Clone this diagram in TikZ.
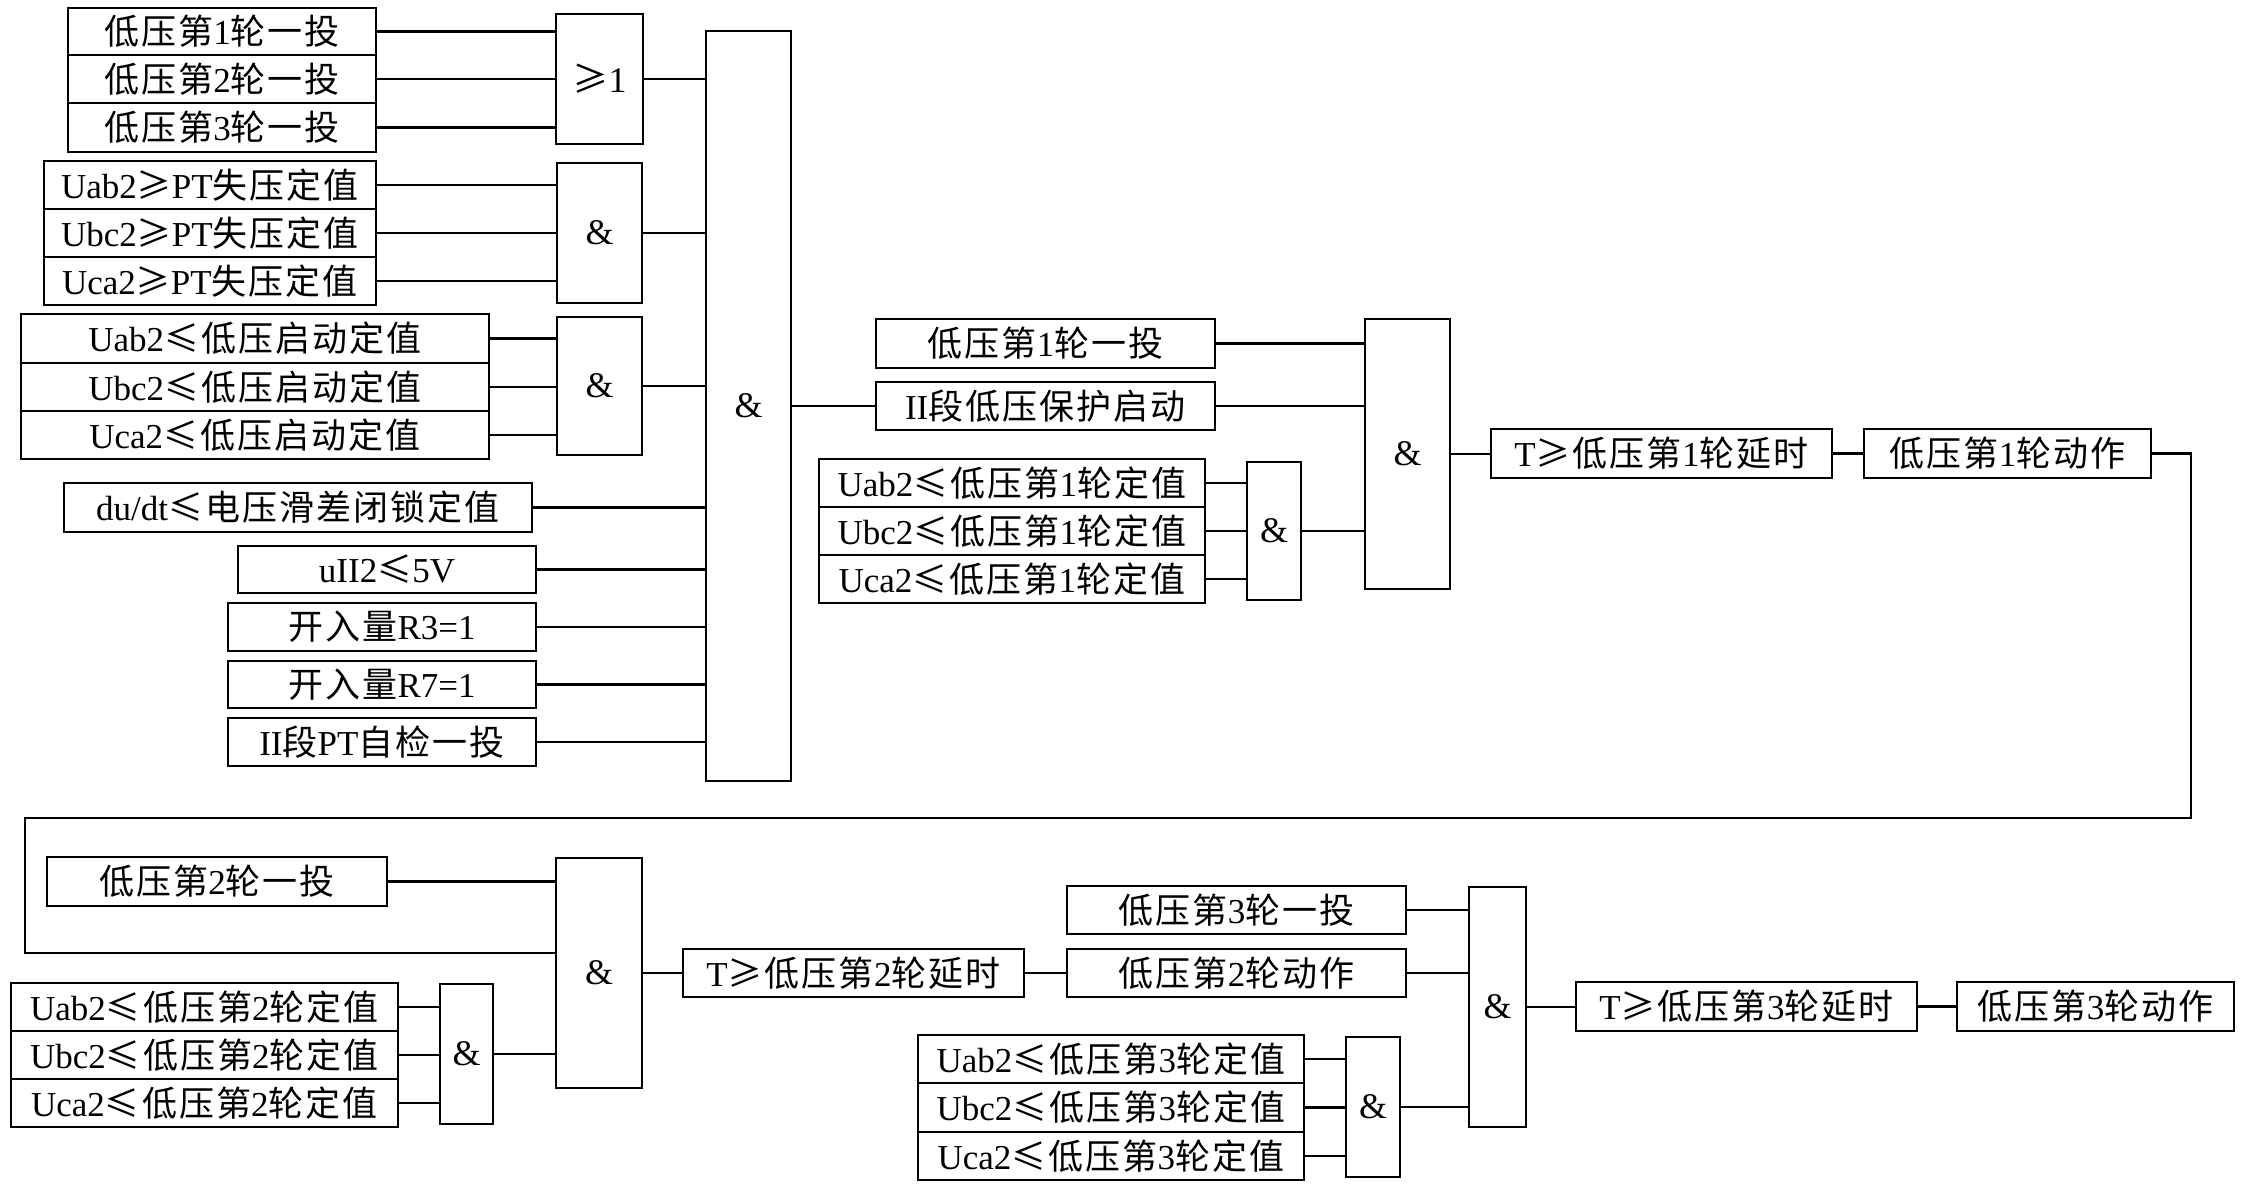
\documentclass[tikz,border=0pt]{standalone}
\usepackage{fontspec}
\setmainfont{Liberation Serif}
\newfontfamily\cjk{Noto Sans CJK SC}[LetterSpace=6]
\newcommand\C[1]{{\cjk #1}}
\newcommand\mybox[6]{%
  \node[bx, minimum width={#4pt-#2pt}, minimum height={#5pt-#3pt}] (#1) at ({(#2+#4)/2},{(#3+#5)/2}) {#6};}
\newcommand\mygate[6]{%
  \node[gate, minimum width={#4pt-#2pt}, minimum height={#5pt-#3pt}] (#1) at ({(#2+#4)/2},{(#3+#5)/2}) {#6};}
\begin{document}
\begin{tikzpicture}[x=1pt,y=-1pt,
  bx/.style={draw, line width=2.6pt, inner sep=0pt, anchor=center, font=\fontsize{35}{40}\selectfont},
  gate/.style={draw, line width=2.6pt, inner sep=0pt, anchor=center, font=\fontsize{36}{40}\selectfont},
  wire/.style={line width=2.6pt}]
\useasboundingbox (0,0) rectangle (2245,1187);
\fill[white] (0,0) rectangle (2245,1187);
% ---- group A
\mybox{a1}{68}{8}{376}{55}{\C{低压第}1\C{轮一投}}
\mybox{a2}{68}{55}{376}{103}{\C{低压第}2\C{轮一投}}
\mybox{a3}{68}{103}{376}{152}{\C{低压第}3\C{轮一投}}
\mygate{g1}{556}{14}{643}{144}{\C{≥}1}
% ---- group B
\mybox{b1}{44}{161}{376}{209}{Uab2\C{≥}PT\C{失压定值}}
\mybox{b2}{44}{209}{376}{257}{Ubc2\C{≥}PT\C{失压定值}}
\mybox{b3}{44}{257}{376}{305}{Uca2\C{≥}PT\C{失压定值}}
\mygate{g2}{557}{163}{642}{303}{\&}
% ---- group C
\mybox{c1}{21}{314}{489}{363}{Uab2\C{≤低压启动定值}}
\mybox{c2}{21}{363}{489}{411}{Ubc2\C{≤低压启动定值}}
\mybox{c3}{21}{411}{489}{459}{Uca2\C{≤低压启动定值}}
\mygate{g3}{557}{317}{642}{455}{\&}
% ---- single inputs
\mybox{d1}{64}{483}{532}{532}{du/dt\C{≤电压滑差闭锁定值}}
\mybox{e1}{238}{546}{536}{593}{uII2\C{≤}5V}
\mybox{e2}{228}{603}{536}{651}{\C{开入量}R3=1}
\mybox{e3}{228}{661}{536}{708}{\C{开入量}R7=1}
\mybox{e4}{228}{718}{536}{766}{II\C{段}PT\C{自检一投}}
\mygate{G1}{706}{31}{791}{781}{\&}
% ---- stage 1
\mybox{s1}{876}{319}{1215}{368}{\C{低压第}1\C{轮一投}}
\mybox{s2}{876}{382}{1215}{430}{II\C{段低压保护启动}}
\mybox{u1}{819}{459}{1205}{507}{Uab2\C{≤低压第}1\C{轮定值}}
\mybox{u2}{819}{507}{1205}{555}{Ubc2\C{≤低压第}1\C{轮定值}}
\mybox{u3}{819}{555}{1205}{603}{Uca2\C{≤低压第}1\C{轮定值}}
\mygate{h1}{1247}{462}{1301}{600}{\&}
\mygate{H1}{1365}{319}{1450}{589}{\&}
\mybox{t1}{1491}{429}{1832}{478}{T\C{≥低压第}1\C{轮延时}}
\mybox{o1}{1864}{429}{2151}{478}{\C{低压第}1\C{轮动作}}
% ---- stage 2
\mybox{s3}{47}{857}{387}{906}{\C{低压第}2\C{轮一投}}
\mybox{v1}{11}{983}{398}{1031}{Uab2\C{≤低压第}2\C{轮定值}}
\mybox{v2}{11}{1031}{398}{1079}{Ubc2\C{≤低压第}2\C{轮定值}}
\mybox{v3}{11}{1079}{398}{1127}{Uca2\C{≤低压第}2\C{轮定值}}
\mygate{h2}{440}{984}{493}{1124}{\&}
\mygate{H2}{556}{858}{642}{1088}{\&}
\mybox{t2}{683}{949}{1024}{997}{T\C{≥低压第}2\C{轮延时}}
% ---- stage 3
\mybox{s4}{1067}{886}{1406}{934}{\C{低压第}3\C{轮一投}}
\mybox{o2}{1067}{949}{1406}{997}{\C{低压第}2\C{轮动作}}
\mybox{w1}{918}{1035}{1304}{1083}{Uab2\C{≤低压第}3\C{轮定值}}
\mybox{w2}{918}{1083}{1304}{1132}{Ubc2\C{≤低压第}3\C{轮定值}}
\mybox{w3}{918}{1132}{1304}{1180}{Uca2\C{≤低压第}3\C{轮定值}}
\mygate{h3}{1346}{1037}{1400}{1177}{\&}
\mygate{H3}{1469}{887}{1526}{1127}{\&}
\mybox{t3}{1576}{982}{1917}{1031}{T\C{≥低压第}3\C{轮延时}}
\mybox{o3}{1957}{982}{2234}{1031}{\C{低压第}3\C{轮动作}}
% ---- feedback route coordinates
\coordinate (fr) at (2191,818);
\coordinate (fl) at (25,818);
\coordinate (fy) at (0,953);
% ---- wires
\foreach \n in {a1,a2,a3} \draw[wire] (\n.east) -- (\n.east -| g1.west);
\foreach \n in {b1,b2,b3} \draw[wire] (\n.east) -- (\n.east -| g2.west);
\foreach \n in {c1,c2,c3} \draw[wire] (\n.east) -- (\n.east -| g3.west);
\foreach \n in {g1,g2,g3,d1,e1,e2,e3,e4} \draw[wire] (\n.east) -- (\n.east -| G1.west);
\draw[wire] (G1.east) -- (G1.east -| s2.west);
\foreach \n in {u1,u2,u3} \draw[wire] (\n.east) -- (\n.east -| h1.west);
\foreach \n in {s1,s2,h1} \draw[wire] (\n.east) -- (\n.east -| H1.west);
\draw[wire] (H1.east) -- (H1.east -| t1.west);
\draw[wire] (t1.east) -- (t1.east -| o1.west);
\draw[wire] (o1.east) -| (fr) -- (fl) |- (H2.west |- fy);
\draw[wire] (s3.east) -- (s3.east -| H2.west);
\foreach \n in {v1,v2,v3} \draw[wire] (\n.east) -- (\n.east -| h2.west);
\draw[wire] (h2.east) -- (h2.east -| H2.west);
\draw[wire] (H2.east) -- (H2.east -| t2.west);
\draw[wire] (t2.east) -- (t2.east -| o2.west);
\foreach \n in {s4,o2,h3} \draw[wire] (\n.east) -- (\n.east -| H3.west);
\foreach \n in {w1,w2,w3} \draw[wire] (\n.east) -- (\n.east -| h3.west);
\draw[wire] (H3.east) -- (H3.east -| t3.west);
\draw[wire] (t3.east) -- (t3.east -| o3.west);
\end{tikzpicture}
\end{document}
